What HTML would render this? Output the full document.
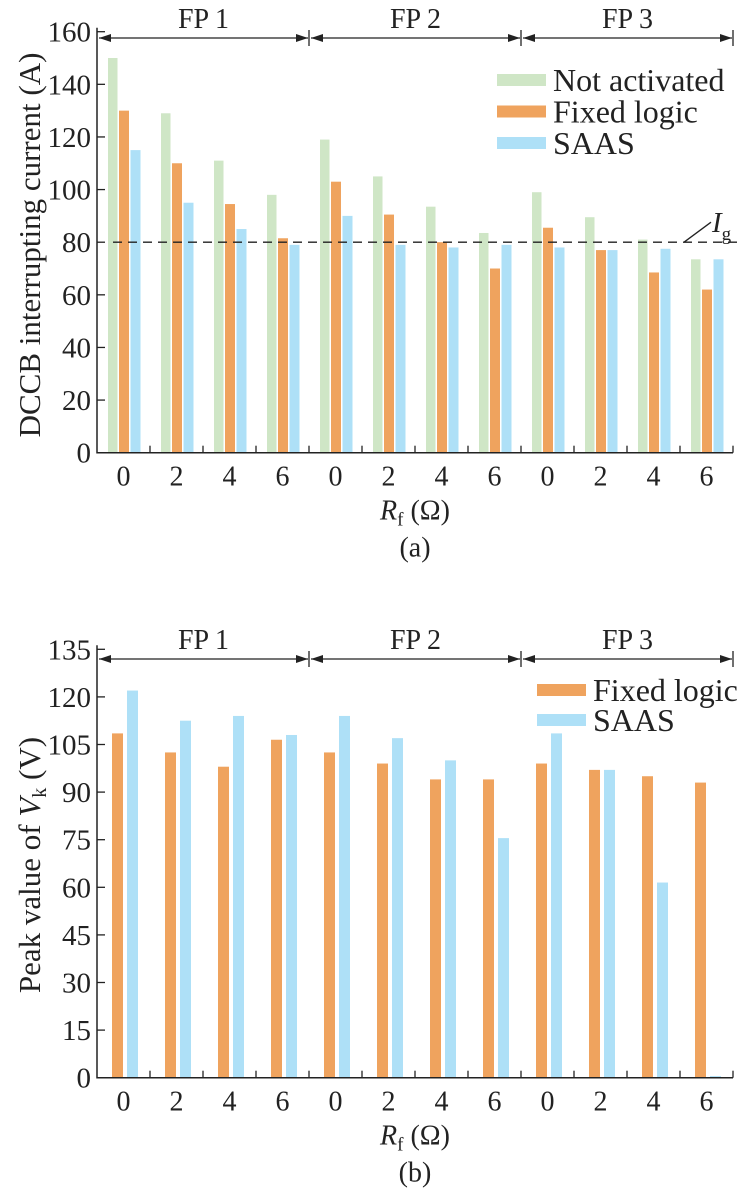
<!DOCTYPE html>
<html><head><meta charset="utf-8"><style>
html,body{margin:0;padding:0;background:#fff;}
svg, svg text{font-family:"Liberation Serif","DejaVu Serif",serif;}
</style></head><body>
<svg id="svg" width="743" height="1198" viewBox="0 0 743 1198" xmlns="http://www.w3.org/2000/svg" font-family="Liberation Serif, serif"></svg>
<script>
const categories = ["0","2","4","6","0","2","4","6","0","2","4","6"];
const fpLabels = ["FP 1","FP 2","FP 3"];
const aNotActivated = [150,129,111,98,119,105,93.5,83.5,99,89.5,81,73.5];
const aFixed = [130,110,94.5,81.5,103,90.5,80,70,85.5,77,68.5,62];
const aSaas = [115,95,85,79,90,79,78,79,78,77,77.5,73.5];
const aTicks = [0,20,40,60,80,100,120,140,160];
const aThreshold = 80;
const bFixed = [108.5,102.5,98,106.5,102.5,99,94,94,99,97,95,93];
const bSaas = [122,112.5,114,108,114,107,100,75.5,108.5,97,61.5,0.5];
const bTicks = [0,15,30,45,60,75,90,105,120,135];

const NS="http://www.w3.org/2000/svg";
const svg=document.getElementById('svg');
const SERIF="Liberation Serif, serif";
function mk(tag,attrs,parent){const e=document.createElementNS(NS,tag);for(const k in attrs)e.setAttribute(k,attrs[k]);if(tag==='text'&&!attrs['font-family'])e.setAttribute('font-family',SERIF);(parent||svg).appendChild(e);return e;}
const X0=97,X1=733,GW=(X1-X0)/categories.length;
const GREEN="#cfe6c6",ORANGE="#efa35e",BLUE="#aee0f7";
function xg(i){return X0+i*GW;}

function panel(cfg){
  const g=mk('g',{});
  
  
  const ys=v=>cfg.y0-(v-cfg.ticks[0])/(cfg.ticks[cfg.ticks.length-1]-cfg.ticks[0])*(cfg.y0-cfg.yTop);
  cfg.series.forEach((s,si)=>{
    s.data.forEach((v,i)=>{
      const r=mk('rect',{x:xg(i)+s.off,y:ys(v),width:s.w,height:cfg.y0-ys(v),fill:s.color},g);
      
      
    });
  });
  const ax=mk('path',{d:`M${X0} ${cfg.yTop-4}V${cfg.y0}H${X1}`,stroke:'#222','stroke-width':1.5,fill:'none'},g);
  
  
  cfg.ticks.forEach(t=>{
    const y=ys(t);
    mk('line',{x1:X0,x2:X0+8,y1:y,y2:y,stroke:'#222','stroke-width':1.3},g);
    const tx=mk('text',{x:91,y:y+10,'font-size':29,'text-anchor':'end',fill:'#222'},g);
    tx.textContent=t;
    
    
  });
  categories.forEach((c,i)=>{
    mk('line',{x1:xg(i+1),x2:xg(i+1),y1:cfg.y0,y2:cfg.y0-7,stroke:'#222','stroke-width':1.3},g);
    const tx=mk('text',{x:xg(i)+GW/2,y:cfg.y0+33,'font-size':28,'text-anchor':'middle',fill:'#222'},g);
    tx.textContent=c;
    
    
  });
  fpLabels.forEach((l,k)=>{
    const a=X0+k*4*GW+2,b=X0+(k+1)*4*GW-1,y=cfg.arrowY;
    mk('line',{x1:a,x2:b,y1:y,y2:y,stroke:'#222','stroke-width':1.3},g);
    mk('path',{d:`M${a} ${y}l12 -4v8z M${b} ${y}l-12 -4v8z`,fill:'#222'},g);
    mk('line',{x1:X0+(k+1)*4*GW,x2:X0+(k+1)*4*GW,y1:y-8,y2:y+8,stroke:'#222','stroke-width':1.3},g);
    const tx=mk('text',{x:(a+b)/2,y:cfg.arrowY-10,'font-size':28,'text-anchor':'middle',fill:'#222','font-family':'Liberation Sans, sans-serif'},g);
    tx.textContent=l;
    
    
  });
  const yt=mk('text',{x:0,y:0,'font-size':31,'text-anchor':'middle',fill:'#222',transform:`translate(40 ${cfg.titleY}) rotate(-90)`},g);
  yt.innerHTML=cfg.ytitle;
  
  
  const xt=mk('text',{x:415,y:cfg.y0+67,'font-size':28,'text-anchor':'middle',fill:'#222'},g);
  xt.innerHTML='<tspan font-style="italic">R</tspan><tspan font-size="19" dy="6">f</tspan><tspan dy="-6"> (Ω)</tspan>';
  
  
  const cap=mk('text',{x:415,y:cfg.y0+104,'font-size':28,'text-anchor':'middle',fill:'#222'},g);
  cap.textContent=cfg.caption;
  
  
  cfg.legend.forEach((e,i)=>{
    const y=cfg.legY+i*cfg.legStep;
    const lg=mk('g',{},g);
    
    
    mk('rect',{x:cfg.legX,y:y-6,width:49,height:12,fill:e.color},lg);
    const t=mk('text',{x:cfg.legX+56,y:y+11,'font-size':32,fill:'#222'},lg);
    t.textContent=e.label;
  });
  return {g,ys};
}

const pa=panel({name:'chart-a',y0:452.7,yTop:31.7,ticks:aTicks,arrowY:38,titleY:245,caption:'(a)',
  ytitle:'DCCB interrupting current (A)',
  series:[{key:'not-activated',data:aNotActivated,off:11,w:9.5,color:GREEN},
          {key:'fixed-logic',data:aFixed,off:22,w:10,color:ORANGE},
          {key:'saas',data:aSaas,off:33.5,w:10,color:BLUE}],
  legX:497,legY:80,legStep:31.5,
  legend:[{label:'Not activated',color:GREEN},{label:'Fixed logic',color:ORANGE},{label:'SAAS',color:BLUE}]});
const yI=pa.ys(aThreshold);
const dl=mk('line',{x1:113,x2:743,y1:yI,y2:yI,stroke:'#222','stroke-width':1.4,'stroke-dasharray':'9 6'},pa.g);


mk('line',{x1:684,y1:yI,x2:711,y2:yI-20,stroke:'#222','stroke-width':1.3},pa.g);
const ig=mk('text',{x:712,y:yI-10,'font-size':29,fill:'#222'},pa.g);
ig.innerHTML='<tspan font-style="italic">I</tspan><tspan font-size="19" dy="8">g</tspan>';



panel({name:'chart-b',y0:1077.7,yTop:649.3,ticks:bTicks,arrowY:659,titleY:865,caption:'(b)',
  ytitle:'Peak value of <tspan font-style="italic">V</tspan><tspan font-size="20" dy="6">k</tspan><tspan dy="-6"> (V)</tspan>',
  series:[{key:'fixed-logic',data:bFixed,off:15,w:11,color:ORANGE},
          {key:'saas',data:bSaas,off:30,w:11,color:BLUE}],
  legX:537,legY:690,legStep:30,
  legend:[{label:'Fixed logic',color:ORANGE},{label:'SAAS',color:BLUE}]});
</script>
</body></html>
